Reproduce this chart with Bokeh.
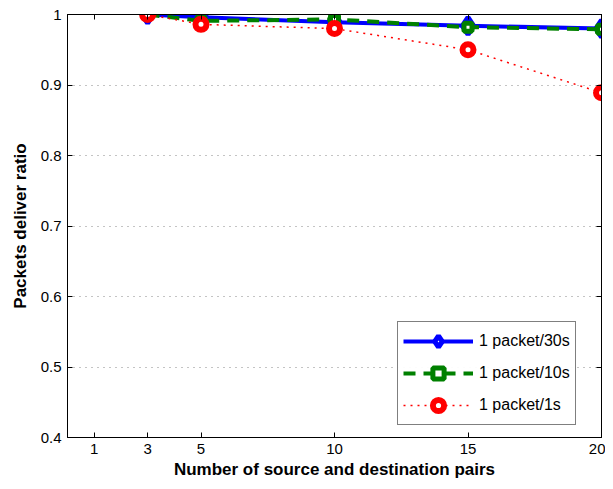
from bokeh.plotting import figure
from bokeh.models import Range1d, FixedTicker, LinearAxis, Legend, LegendItem
from bokeh.embed import file_html
from bokeh.resources import INLINE

x_pairs = [3, 5, 10, 15, 20]
rate_30s = [1.0, 0.996, 0.989, 0.984, 0.980]
rate_10s = [1.0, 0.991, 0.993, 0.982, 0.979]
rate_1s = [1.0, 0.986, 0.980, 0.950, 0.889]
x_ticks = [1, 3, 5, 10, 15, 20]
y_ticks = [0.4, 0.5, 0.6, 0.7, 0.8, 0.9, 1.0]
y_labels = {0.4: "0.4", 0.5: "0.5", 0.6: "0.6", 0.7: "0.7", 0.8: "0.8", 0.9: "0.9", 1.0: "1"}
labels = ["1 packet/30s", "1 packet/10s", "1 packet/1s"]

FONT = "Liberation Sans"

p = figure(frame_width=534, frame_height=423, output_backend="svg", toolbar_location=None,
           x_range=Range1d(0, 20), y_range=Range1d(0.4, 1.0),
           min_border_left=67, min_border_top=14, min_border_right=4, min_border_bottom=10)
p.background_fill_color = "white"
p.border_fill_color = "white"
p.outline_line_color = "black"
p.outline_line_width = 1

# axes
p.xaxis.ticker = FixedTicker(ticks=x_ticks)
p.yaxis.ticker = FixedTicker(ticks=y_ticks)
p.yaxis.major_label_overrides = y_labels
for ax in (p.xaxis[0], p.yaxis[0]):
    ax.major_tick_in = 5
    ax.major_tick_out = 0
    ax.minor_tick_line_color = None
    ax.axis_line_color = "black"
    ax.major_tick_line_color = "black"
    ax.major_label_text_font = FONT
    ax.major_label_text_font_size = "15px"
    ax.major_label_text_color = "black"
    ax.axis_label_text_font = FONT
    ax.axis_label_text_font_size = "17px"
    ax.axis_label_text_font_style = "bold"
    ax.axis_label_text_color = "black"
p.xaxis.axis_label = "Number of source and destination pairs"
p.yaxis.axis_label = "Packets deliver ratio"
p.xaxis.major_label_standoff = 6
p.yaxis.major_label_standoff = 6
p.xaxis.axis_label_standoff = 3
p.yaxis.axis_label_standoff = 8

top = LinearAxis(ticker=FixedTicker(ticks=x_ticks), major_label_text_font_size="0px",
                 major_tick_in=5, major_tick_out=0, minor_tick_line_color=None,
                 major_label_text_color=None)
right = LinearAxis(ticker=FixedTicker(ticks=y_ticks), major_label_text_font_size="0px",
                   major_tick_in=5, major_tick_out=0, minor_tick_line_color=None,
                   major_label_text_color=None)
top.major_label_standoff = 0
right.major_label_standoff = 0
p.add_layout(top, "above")
p.add_layout(right, "right")

p.xgrid.grid_line_color = None
p.ygrid.grid_line_color = "#888888"
p.ygrid.grid_line_dash = "1 5"
p.ygrid.grid_line_width = 1

# series
l1 = p.line(x_pairs, rate_30s, line_color="blue", line_width=4)
m1 = p.scatter(x_pairs, rate_30s, marker="diamond", size=17, line_color="blue",
               fill_color="white", line_width=5)
l2 = p.line(x_pairs, rate_10s, line_color="green", line_width=4, line_dash="12 8")
m2 = p.scatter(x_pairs, rate_10s, marker="square", size=8, line_color="green",
               fill_color="white", line_width=5)
l3 = p.line(x_pairs, rate_1s, line_color="red", line_width=1.5, line_dash="2 5")
m3 = p.scatter(x_pairs, rate_1s, marker="circle", size=11, line_color="red",
               fill_color="white", line_width=6)

legend = Legend(items=[
    LegendItem(label=labels[0], renderers=[l1, m1]),
    LegendItem(label=labels[1], renderers=[l2, m2]),
    LegendItem(label=labels[2], renderers=[l3, m3]),
], location=(330, 12))
legend.glyph_width = 70
legend.glyph_height = 28
legend.label_width = 90
legend.label_height = 28
legend.label_text_font = FONT
legend.label_text_font_size = "16px"
legend.label_text_color = "black"
legend.border_line_color = "black"
legend.border_line_width = 1
legend.spacing = 4
legend.padding = 5
legend.margin = 0
legend.label_standoff = 6
p.add_layout(legend, "center")

open("out.html", "w").write(file_html(p, INLINE))
